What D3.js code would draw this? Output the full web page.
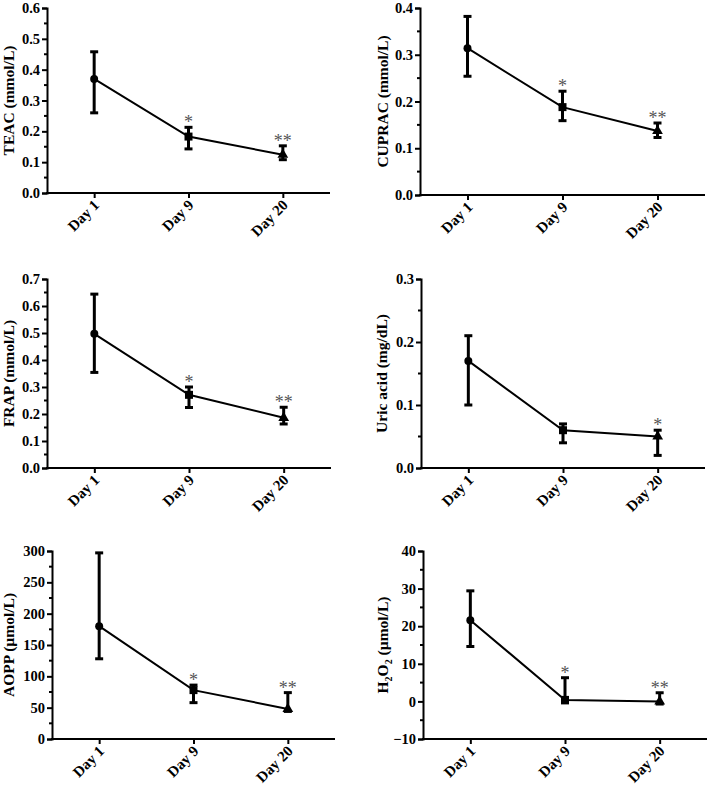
<!DOCTYPE html>
<html>
<head>
<meta charset="utf-8">
<script src="https://cdn.jsdelivr.net/npm/d3@7"></script>
<style>
  html, body { margin: 0; padding: 0; background: #fff; }
  svg { display: block; }
  svg text { font-family: "Liberation Serif", "Times New Roman", "DejaVu Serif", serif !important; }
</style>
</head>
<body>
<svg id="chart" width="709" height="786"></svg>
<script>
// ---------- DATA ----------
const categories = ["Day 1", "Day 9", "Day 20"];

const teacMean = [0.370, 0.183, 0.124];
const teacLow  = [0.260, 0.143, 0.108];
const teacHigh = [0.458, 0.213, 0.153];
const teacSig  = ["", "*", "**"];

const cupracMean = [0.314, 0.188, 0.137];
const cupracLow  = [0.254, 0.159, 0.123];
const cupracHigh = [0.382, 0.222, 0.154];
const cupracSig  = ["", "*", "**"];

const frapMean = [0.497, 0.271, 0.186];
const frapLow  = [0.354, 0.224, 0.163];
const frapHigh = [0.644, 0.300, 0.225];
const frapSig  = ["", "*", "**"];

const uricMean = [0.170, 0.060, 0.050];
const uricLow  = [0.100, 0.040, 0.020];
const uricHigh = [0.210, 0.070, 0.060];
const uricSig  = ["", "", "*"];

const aoppMean = [180, 78, 48];
const aoppLow  = [128, 58, 44];
const aoppHigh = [297, 86, 74];
const aoppSig  = ["", "*", "**"];

const h2o2Mean = [21.6, 0.4, 0.0];
const h2o2Low  = [14.6, -0.4, -0.7];
const h2o2High = [29.4, 6.3, 2.3];
const h2o2Sig  = ["", "*", "**"];

const yDomains = {
  teac: [0, 0.6], cuprac: [0, 0.4], frap: [0, 0.7],
  uric: [0, 0.3], aopp: [0, 300], h2o2: [-10, 40]
};
const yStep = { teac: 0.1, cuprac: 0.1, frap: 0.1, uric: 0.1, aopp: 50, h2o2: 10 };

const panels = [
  { key: "teac",   title: [["TEAC (mmol/L)", null]], mean: teacMean, low: teacLow, high: teacHigh, sig: teacSig, fmt: ".1f" },
  { key: "cuprac", title: [["CUPRAC (mmol/L)", null]], mean: cupracMean, low: cupracLow, high: cupracHigh, sig: cupracSig, fmt: ".1f" },
  { key: "frap",   title: [["FRAP (mmol/L)", null]], mean: frapMean, low: frapLow, high: frapHigh, sig: frapSig, fmt: ".1f" },
  { key: "uric",   title: [["Uric acid (mg/dL)", null]], mean: uricMean, low: uricLow, high: uricHigh, sig: uricSig, fmt: ".1f" },
  { key: "aopp",   title: [["AOPP (\u00b5mol/L)", null]], mean: aoppMean, low: aoppLow, high: aoppHigh, sig: aoppSig, fmt: "d" },
  { key: "h2o2",   title: [["H", null], ["2", "sub"], ["O", null], ["2", "sub"], [" (\u00b5mol/L)", null]], mean: h2o2Mean, low: h2o2Low, high: h2o2High, sig: h2o2Sig, fmt: "d" }
];

// ---------- LAYOUT ----------
const layout = {
  teac:   { x0: 47,  x1: 330, yTop: 8,   yBot: 193, titleX: 14 },
  cuprac: { x0: 420, x1: 705, yTop: 8,   yBot: 195, titleX: 388 },
  frap:   { x0: 47,  x1: 331, yTop: 279, yBot: 468, titleX: 14 },
  uric:   { x0: 421, x1: 705, yTop: 279, yBot: 468, titleX: 387 },
  aopp:   { x0: 52,  x1: 335, yTop: 551, yBot: 739, titleX: 14 },
  h2o2:   { x0: 423, x1: 707, yTop: 551, yBot: 739, titleX: 388 }
};

const FONT = "'Liberation Serif', 'Times New Roman', 'DejaVu Serif', serif";
const svg = d3.select("#chart").attr("font-family", FONT);

panels.forEach(p => {
  const L = layout[p.key];
  const g = svg.append("g");
  const x = d3.scalePoint().domain(categories).range([L.x0, L.x1]).padding(0.5);
  const dom = yDomains[p.key];
  const y = d3.scaleLinear().domain(dom).range([L.yBot, L.yTop]);
  const step = yStep[p.key];
  const majors = d3.range(dom[0], dom[1] + step / 2, step);
  const minors = d3.range(dom[0] + step / 2, dom[1], step);

  // Y axis
  const yAxis = d3.axisLeft(y).tickValues(majors).tickFormat(d3.format(p.fmt)).tickSizeOuter(0).tickSize(5).tickPadding(2);
  const ya = g.append("g").attr("transform", `translate(${L.x0},0)`).call(yAxis).attr("font-family", FONT);
  ya.select(".domain").attr("stroke", "#000").attr("stroke-width", 2);
  ya.selectAll(".tick line").attr("stroke", "#000").attr("stroke-width", 2);
  ya.selectAll(".tick text").style("font-family", FONT)
    .attr("font-weight", "bold").attr("font-size", 14.5).attr("fill", "#000");
  // minor ticks
  g.append("g").selectAll("line").data(minors).join("line")
    .attr("x1", L.x0 - 3).attr("x2", L.x0)
    .attr("y1", d => y(d)).attr("y2", d => y(d))
    .attr("stroke", "#000").attr("stroke-width", 2);

  // X axis
  const xAxis = d3.axisBottom(x).tickSizeOuter(0).tickSize(5).tickFormat("");
  const xa = g.append("g").attr("transform", `translate(0,${L.yBot})`).call(xAxis);
  xa.select(".domain").attr("stroke", "#000").attr("stroke-width", 2)
    .attr("d", `M${L.x0 - 1},0H${L.x1}`);
  xa.selectAll(".tick line").attr("stroke", "#000").attr("stroke-width", 2);
  g.append("g").selectAll("text").data(categories).join("text")
    .attr("transform", d => `translate(${x(d) + 6},${L.yBot + 13}) rotate(-45)`)
    .attr("text-anchor", "end")
    .style("font-family", FONT)
    .attr("font-weight", "bold").attr("font-size", 15)
    .text(d => d);

  // Y title
  const t = g.append("text")
    .attr("transform", `translate(${L.titleX},${(L.yTop + L.yBot) / 2}) rotate(-90)`)
    .attr("text-anchor", "middle")
    .style("font-family", FONT)
    .attr("font-weight", "bold").attr("font-size", 15.5);
  p.title.forEach(([s, kind], i) => {
    const prev = i > 0 ? p.title[i - 1][1] : null;
    const ts = t.append("tspan").text(s);
    if (kind === "sub") ts.attr("font-size", 10).attr("dy", prev === "sub" ? 0 : 4);
    else ts.attr("dy", prev === "sub" ? -4 : 0);
  });

  const rows = categories.map((c, i) => ({ c, i, m: p.mean[i], lo: p.low[i], hi: p.high[i], s: p.sig[i] }));

  // line
  const line = d3.line().x(d => x(d.c)).y(d => y(d.m));
  g.append("path").datum(rows).attr("d", line)
    .attr("fill", "none").attr("stroke", "#000").attr("stroke-width", 2);

  // error bars
  const eb = g.append("g").attr("stroke", "#000").attr("stroke-width", 3);
  eb.selectAll("line.v").data(rows).join("line").attr("class", "v")
    .attr("x1", d => x(d.c)).attr("x2", d => x(d.c))
    .attr("y1", d => y(d.lo)).attr("y2", d => y(d.hi));
  eb.selectAll("line.capt").data(rows).join("line").attr("class", "capt")
    .attr("x1", d => x(d.c) - 4).attr("x2", d => x(d.c) + 4)
    .attr("y1", d => y(d.hi)).attr("y2", d => y(d.hi));
  eb.selectAll("line.capb").data(rows).join("line").attr("class", "capb")
    .attr("x1", d => x(d.c) - 4).attr("x2", d => x(d.c) + 4)
    .attr("y1", d => y(d.lo)).attr("y2", d => y(d.lo));

  // markers: circle, square, triangle
  const symbols = [d3.symbolCircle, d3.symbolSquare, d3.symbolTriangle];
  const sizes = [50, 64, 50];
  g.append("g").selectAll("path").data(rows).join("path")
    .attr("transform", d => `translate(${x(d.c)},${y(d.m)})`)
    .attr("d", d => d3.symbol().type(symbols[d.i]).size(sizes[d.i])())
    .attr("fill", "#000");

  // significance stars
  g.append("g").selectAll("text").data(rows.filter(d => d.s)).join("text")
    .attr("x", d => x(d.c)).attr("y", d => y(d.hi) + 1)
    .attr("text-anchor", "middle")
    .style("font-family", FONT)
    .attr("font-size", 18).attr("fill", "#555")
    .text(d => d.s);
});
</script>
</body>
</html>
